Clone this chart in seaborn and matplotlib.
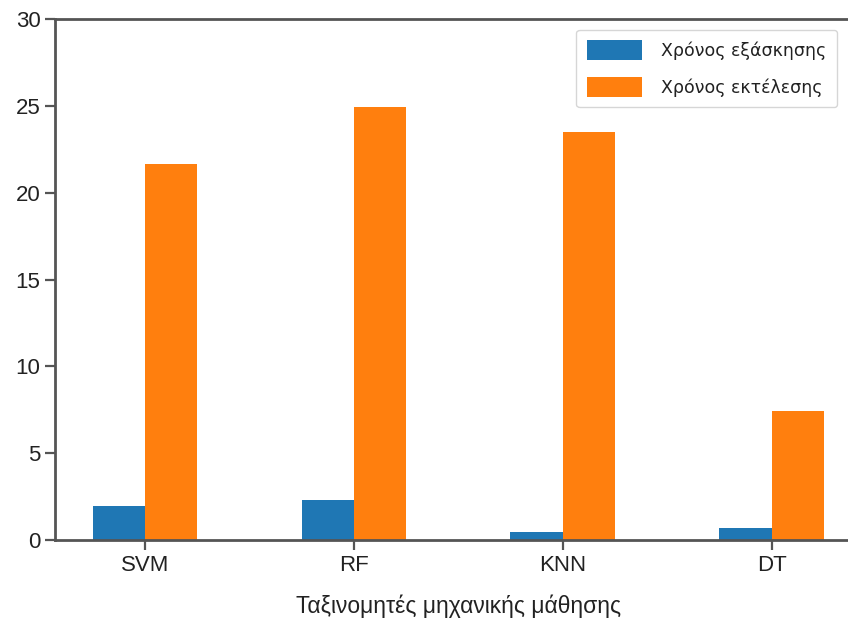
import matplotlib
matplotlib.use("Agg")
import matplotlib.pyplot as plt
import seaborn as sns
import pandas as pd

# Classifiers and their timings (seconds)
classifiers = ["SVM", "RF", "KNN", "DT"]
train_time = [1.97, 2.30, 0.48, 0.67]
exec_time = [21.65, 24.95, 23.51, 7.44]
series_names = ["Χρόνος εξάσκησης", "Χρόνος εκτέλεσης"]
y_ticks = [0, 5, 10, 15, 20, 25, 30]
x_label = "Ταξινομητές μηχανικής μάθησης"

df = pd.DataFrame({
    "classifier": classifiers * 2,
    "time": train_time + exec_time,
    "series": [series_names[0]] * len(classifiers) + [series_names[1]] * len(classifiers),
})

sns.set_style("white")
plt.rcParams["font.family"] = ["Liberation Sans", "DejaVu Sans"]

fig = plt.figure(figsize=(8.48, 6.21), dpi=100)
ax = fig.add_axes([55 / 848, 81 / 621, 821 / 848, 521 / 621])

sns.barplot(
    data=df, x="classifier", y="time", hue="series",
    order=classifiers, hue_order=series_names,
    palette=["#1f77b4", "#ff7f0e"], width=0.5, gap=0,
    saturation=1, ax=ax, errorbar=None, linewidth=0,
)

ax.set_xlim(-0.43, 3.5)
ax.set_ylim(0, 30)
ax.set_yticks(y_ticks)
ax.set_xlabel(x_label, fontsize=16.5, labelpad=12, color="#222222")
ax.xaxis.set_label_coords(0.492, -0.105)
ax.set_ylabel("")

for side in ["left", "bottom", "top", "right"]:
    ax.spines[side].set_color("#555555")
    ax.spines[side].set_linewidth(2)
ax.tick_params(axis="both", which="major", length=7, width=1.6,
               color="#555555", labelsize=16, labelcolor="#222222",
               direction="out", bottom=True, left=True)

leg = ax.legend(loc="upper right", bbox_to_anchor=(0.9525, 0.979),
                borderaxespad=0, fontsize=12.5, frameon=True, title=None,
                handlelength=3.2, handleheight=1.4,
                borderpad=0.6, labelspacing=0.95, handletextpad=1.1)
leg.get_frame().set_edgecolor("#cccccc")
for t in leg.get_texts():
    t.set_family(["DejaVu Sans"])
    t.set_color("#222222")

fig.savefig("out.png", dpi=100)
